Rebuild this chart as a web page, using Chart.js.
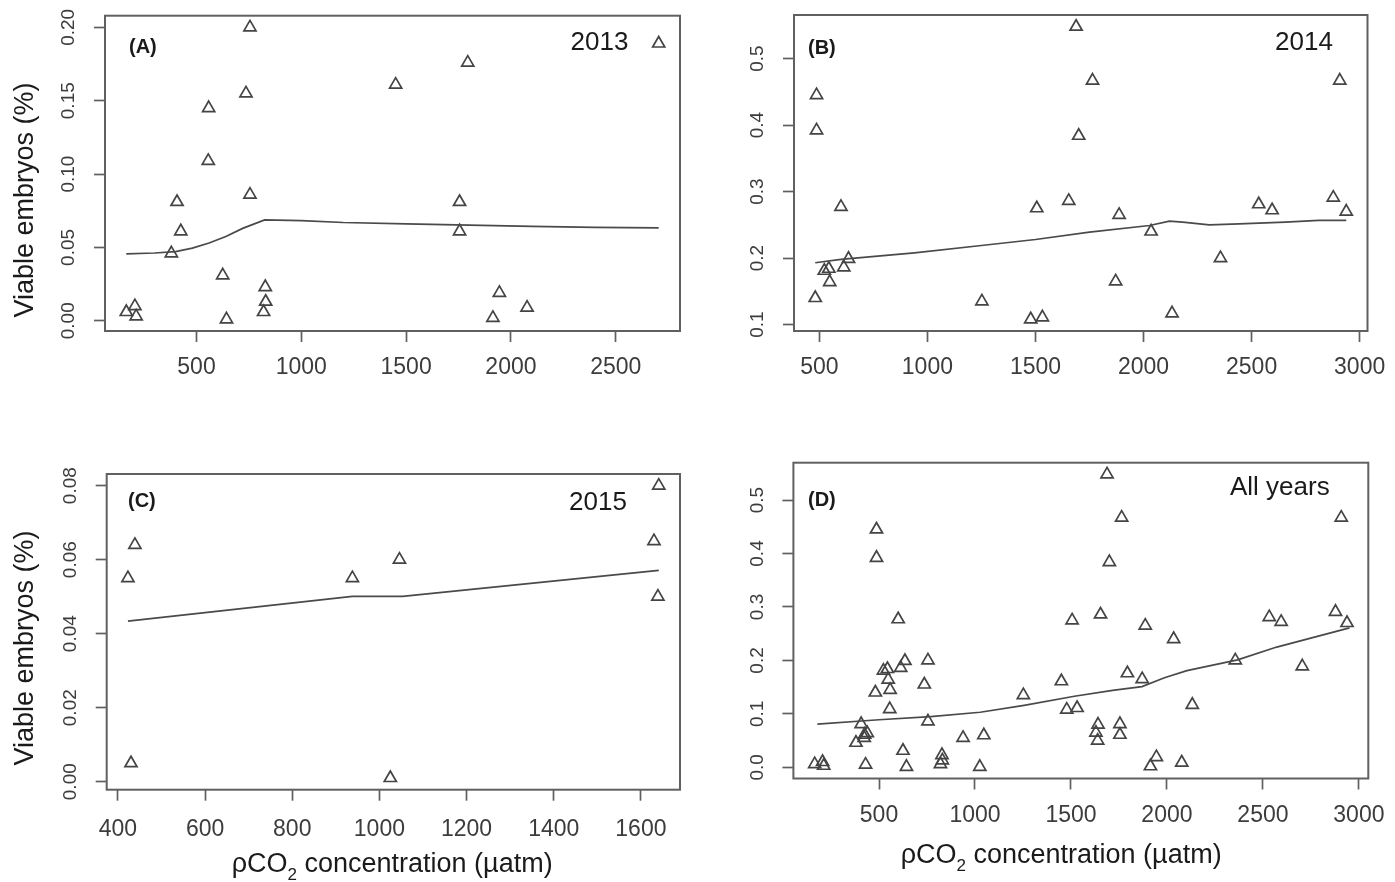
<!DOCTYPE html>
<html>
<head>
<meta charset="utf-8">
<title>Viable embryos vs pCO2</title>
<script src="https://cdn.jsdelivr.net/npm/chart.js@4.4.1/dist/chart.umd.min.js"></script>
<style>
  body { margin: 0; background: #fff; }
  #page { position: relative; width: 1395px; height: 882px; overflow: hidden; background: #fff;
          font-family: "Liberation Sans", Arial, sans-serif; }
  canvas { position: absolute; }
  .txt { position: absolute; white-space: nowrap; color: #1a1a1a; }
  .ytitle { position: absolute; white-space: nowrap; color: #1a1a1a; font-size: 27px; line-height: 27px;
            transform: translate(-50%, -50%) rotate(-90deg); }
</style>
</head>
<body>
<div id="page">
  <canvas id="chartA" width="695" height="441" style="left:0;top:0"></canvas>
  <canvas id="chartB" width="700" height="441" style="left:695px;top:0"></canvas>
  <canvas id="chartC" width="695" height="441" style="left:0;top:441px"></canvas>
  <canvas id="chartD" width="700" height="441" style="left:695px;top:441px"></canvas>
</div>
<script>
// ---- data ----

// (A) 2013
const co2A = [165, 206, 212, 380, 407, 425, 556, 558, 625, 643, 736, 755, 755, 828, 830, 820, 1450, 1755, 1755, 1794, 1914, 1945, 2077, 2705];
const viableA = [0.006, 0.010, 0.003, 0.046, 0.081, 0.061, 0.109, 0.145, 0.031, 0.001, 0.155, 0.200, 0.086, 0.023, 0.013, 0.006, 0.161, 0.081, 0.061, 0.176, 0.002, 0.019, 0.009, 0.189];
const fitCo2A = [165, 300, 400, 480, 560, 640, 720, 825, 1000, 1200, 1500, 1800, 2100, 2400, 2705];
const fitViableA = [0.0456, 0.0462, 0.0472, 0.0495, 0.053, 0.0575, 0.063, 0.0688, 0.0683, 0.067, 0.066, 0.0652, 0.0643, 0.0637, 0.0633];

// (B) 2014
const co2B = [487, 487, 481, 523, 544, 548, 600, 613, 635, 1252, 1478, 1532, 1506, 1654, 1688, 1700, 1764, 1871, 1887, 2035, 2132, 2356, 2533, 2595, 2878, 2908, 2938];
const viableB = [0.445, 0.392, 0.140, 0.181, 0.184, 0.164, 0.277, 0.186, 0.199, 0.135, 0.108, 0.111, 0.275, 0.286, 0.548, 0.384, 0.467, 0.165, 0.265, 0.240, 0.117, 0.200, 0.281, 0.272, 0.291, 0.467, 0.270];
const fitCo2B = [481, 600, 940, 1250, 1500, 1750, 2028, 2120, 2181, 2304, 2442, 2656, 2810, 2938];
const fitViableB = [0.193, 0.198, 0.208, 0.219, 0.228, 0.239, 0.249, 0.2556, 0.254, 0.250, 0.2515, 0.254, 0.2567, 0.2567];

// (C) 2015
const co2C = [423, 439, 430, 938, 1046, 1025, 1630, 1641, 1639];
const viableC = [0.055, 0.064, 0.005, 0.055, 0.060, 0.001, 0.065, 0.080, 0.050];
const fitCo2C = [423, 938, 1053, 1641];
const fitViableC = [0.0434, 0.0501, 0.0501, 0.0571];

// (D) all years = the three years together
const co2D = co2A.concat(co2B, co2C);
const viableD = viableA.concat(viableB, viableC);
const fitCo2D = [179, 500, 769, 1027, 1256, 1518, 1717, 1870, 1987, 2104, 2368, 2572, 2951];
const fitViableD = [0.081, 0.089, 0.095, 0.103, 0.116, 0.133, 0.144, 0.151, 0.1675, 0.181, 0.201, 0.225, 0.261];

// tick values and labels
const xTicksA = [500, 1000, 1500, 2000, 2500];
const xLabelsA = ['500', '1000', '1500', '2000', '2500'];
const yTicksA = [0, 0.05, 0.10, 0.15, 0.20];
const yLabelsA = ['0.00', '0.05', '0.10', '0.15', '0.20'];
const xTicksB = [500, 1000, 1500, 2000, 2500, 3000];
const xLabelsB = ['500', '1000', '1500', '2000', '2500', '3000'];
const yTicksB = [0.1, 0.2, 0.3, 0.4, 0.5];
const yLabelsB = ['0.1', '0.2', '0.3', '0.4', '0.5'];
const xTicksC = [400, 600, 800, 1000, 1200, 1400, 1600];
const xLabelsC = ['400', '600', '800', '1000', '1200', '1400', '1600'];
const yTicksC = [0, 0.02, 0.04, 0.06, 0.08];
const yLabelsC = ['0.00', '0.02', '0.04', '0.06', '0.08'];
const yTicksD = [0, 0.1, 0.2, 0.3, 0.4, 0.5];
const yLabelsD = ['0.0', '0.1', '0.2', '0.3', '0.4', '0.5'];

// ---- styling ----
const FRAME = '#606060';
const MARK = '#444444';
const FIT = '#4a4a4a';
const TICK_TEXT = '#3c3c3c';
const TICK_LEN = 11;
const Y_FONT = { family: 'Liberation Sans', size: 19 };
const X_FONT = { family: '"Liberation Sans Narrow", "Arial Narrow", "Liberation Sans"', size: 23 };

const measureCtx = document.createElement('canvas').getContext('2d');
function textWidth(str, font) {
    measureCtx.font = font.size + 'px ' + font.family;
    return measureCtx.measureText(str).width;
}

// R default axis range: data range stretched 4% each side
function rRange(values) {
    const lo = Math.min(...values), hi = Math.max(...values);
    const pad = (hi - lo) * 0.04;
    return [lo - pad, hi + pad];
}

// box around the plot region, like R's bty="o"
const framePlugin = {
    id: 'frame',
    afterDatasetsDraw(chart) {
        const { ctx, chartArea: a } = chart;
        ctx.save();
        ctx.strokeStyle = FRAME;
        ctx.lineWidth = 2;
        ctx.strokeRect(a.left, a.top, a.right - a.left, a.bottom - a.top);
        ctx.restore();
    }
};

function makePanel(id, p) {
    const canvas = document.getElementById(id);
    const W = canvas.width, H = canvas.height;
    const [xMin, xMax] = rRange(p.xs);
    const [yMin, yMax] = rRange(p.ys);
    const widest = Math.max(...p.yLabels.map(s => textWidth(s, Y_FONT)));

    new Chart(canvas, {
        type: 'scatter',
        data: {
            datasets: [
                {
                    type: 'line',
                    data: p.fitX.map((x, i) => ({ x: x, y: p.fitY[i] })),
                    borderColor: FIT,
                    borderWidth: 1.7,
                    pointRadius: 0,
                    tension: 0,
                    fill: false,
                    clip: false
                },
                {
                    data: p.xs.map((x, i) => ({ x: x, y: p.ys[i] })),
                    pointStyle: 'triangle',
                    pointRadius: 7,
                    pointBorderWidth: 1.7,
                    pointBorderColor: MARK,
                    pointBackgroundColor: 'rgba(0,0,0,0)',
                    clip: false
                }
            ]
        },
        options: {
            responsive: false,
            animation: false,
            events: [],
            layout: { padding: { left: 0, top: p.top, right: W - p.right, bottom: 0 } },
            plugins: { legend: { display: false }, tooltip: { enabled: false } },
            scales: {
                x: {
                    type: 'linear',
                    position: 'bottom',
                    bounds: 'data',
                    min: xMin,
                    max: xMax,
                    afterBuildTicks: s => { s.ticks = p.xTicks.map(v => ({ value: v })); },
                    afterFit: s => { s.height = H - p.bottom; s.paddingLeft = 0; s.paddingRight = 0; },
                    ticks: {
                        callback: (v, i) => p.xLabels[i],
                        autoSkip: false,
                        maxRotation: 0,
                        padding: p.xGap - TICK_LEN - X_FONT.size * 0.6,
                        font: X_FONT,
                        color: TICK_TEXT
                    },
                    grid: { drawOnChartArea: false, drawTicks: true, tickLength: TICK_LEN, tickColor: FRAME, tickWidth: 1.7 },
                    border: { display: false }
                },
                y: {
                    type: 'linear',
                    position: 'left',
                    bounds: 'data',
                    min: yMin,
                    max: yMax,
                    afterBuildTicks: s => { s.ticks = p.yTicks.map(v => ({ value: v })); },
                    afterFit: s => { s.width = p.left; s.paddingTop = 0; s.paddingBottom = 0; },
                    ticks: {
                        callback: (v, i) => p.yLabels[i],
                        autoSkip: false,
                        minRotation: 90,
                        maxRotation: 90,
                        crossAlign: 'center',
                        padding: 36 - TICK_LEN - widest / 2,
                        font: Y_FONT,
                        color: TICK_TEXT
                    },
                    grid: { drawOnChartArea: false, drawTicks: true, tickLength: TICK_LEN, tickColor: FRAME, tickWidth: 1.7 },
                    border: { display: false }
                }
            }
        },
        plugins: [framePlugin]
    });
}

makePanel('chartA', {
    xs: co2A, ys: viableA, fitX: fitCo2A, fitY: fitViableA,
    xTicks: xTicksA, xLabels: xLabelsA, yTicks: yTicksA, yLabels: yLabelsA,
    left: 105, right: 680, top: 15.7, bottom: 331, xGap: 37
});
makePanel('chartB', {
    xs: co2B, ys: viableB, fitX: fitCo2B, fitY: fitViableB,
    xTicks: xTicksB, xLabels: xLabelsB, yTicks: yTicksB, yLabels: yLabelsB,
    left: 99, right: 672.5, top: 15, bottom: 331, xGap: 37
});
makePanel('chartC', {
    xs: co2C, ys: viableC, fitX: fitCo2C, fitY: fitViableC,
    xTicks: xTicksC, xLabels: xLabelsC, yTicks: yTicksC, yLabels: yLabelsC,
    left: 106.7, right: 680, top: 33, bottom: 348.7, xGap: 39.6
});
makePanel('chartD', {
    xs: co2D, ys: viableD, fitX: fitCo2D, fitY: fitViableD,
    xTicks: xTicksB, xLabels: xLabelsB, yTicks: yTicksD, yLabels: yLabelsD,
    left: 98.4, right: 673.3, top: 21.7, bottom: 337.5, xGap: 37.5
});

// ---- text outside the plot regions ----
const page = document.getElementById('page');

// place text by its baseline (Liberation Sans metrics)
function addText(html, left, baseline, size, bold) {
    const el = document.createElement('div');
    el.className = 'txt';
    el.innerHTML = html;
    el.style.left = left + 'px';
    el.style.top = (baseline - 0.8465 * size) + 'px';
    el.style.fontSize = size + 'px';
    el.style.lineHeight = size + 'px';
    if (bold) el.style.fontWeight = 'bold';
    page.appendChild(el);
}

function addYTitle(cx, cy) {
    const el = document.createElement('div');
    el.className = 'ytitle';
    el.textContent = 'Viable embryos (%)';
    el.style.left = cx + 'px';
    el.style.top = cy + 'px';
    page.appendChild(el);
}

addText('(A)', 129, 52.8, 20, true);
addText('(B)', 808, 53.8, 20, true);
addText('(C)', 128, 506.5, 20, true);
addText('(D)', 808, 506, 20, true);
addText('2013', 570.5, 50, 26);
addText('2014', 1275, 50, 26);
addText('2015', 569, 510, 26);
addText('All years', 1230, 495, 26);

const xTitle = 'ρCO<span style="font-size:17px;position:relative;top:8px">2</span> concentration (µatm)';
addText(xTitle, 231.7, 873, 27);
addText(xTitle, 900.7, 864, 27);

addYTitle(23.6, 200);
addYTitle(23.6, 648);
</script>
</body>
</html>
